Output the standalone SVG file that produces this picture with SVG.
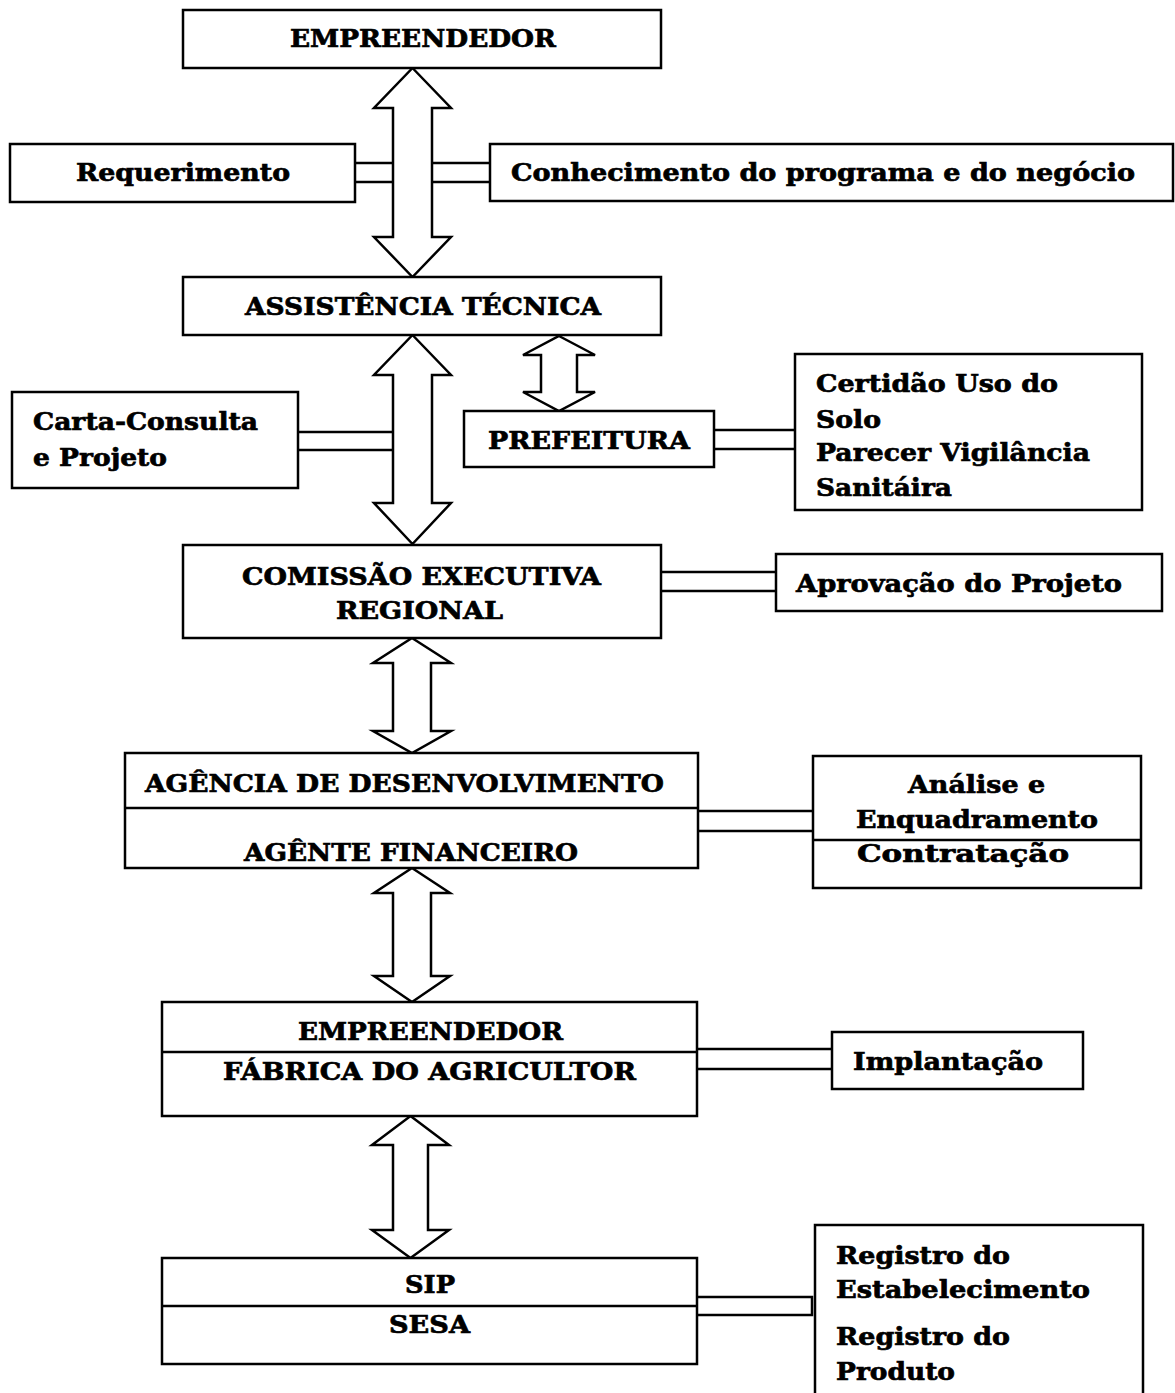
<svg xmlns="http://www.w3.org/2000/svg" width="1175" height="1393" viewBox="0 0 1175 1393">
<style>
.box{fill:#fff;stroke:#000;stroke-width:2.5}
.arr{fill:#fff;stroke:#000;stroke-width:2.5;stroke-linejoin:miter}
.ln{stroke:#000;stroke-width:2.5;fill:none}
.t{font-family:"DejaVu Serif","Liberation Serif",serif;font-weight:bold;font-size:25px;fill:#000;stroke:#000;stroke-width:0.7}
</style>
<rect width="1175" height="1393" fill="#fff"/>
<g id="connectors">
<path class="arr" d="M412.5 68 L451 108 L432 108 L432 237 L451 237 L412.5 277 L374 237 L393 237 L393 108 L374 108 Z"/>
<path class="arr" d="M412.5 335 L451 375 L432 375 L432 503 L451 503 L412.5 544 L374 503 L393 503 L393 375 L374 375 Z"/>
<path class="arr" d="M559 336 L595 355 L577 355 L577 392 L595 392 L559 411 L523 392 L541 392 L541 355 L523 355 Z"/>
<path class="arr" d="M412 638 L451 663 L431 663 L431 731 L451 731 L412 753 L373 731 L393 731 L393 663 L373 663 Z"/>
<path class="arr" d="M412 868 L450 893 L431 893 L431 976 L450 976 L412 1002 L374 976 L393 976 L393 893 L374 893 Z"/>
<path class="arr" d="M410.5 1116 L449 1145 L428 1145 L428 1230 L449 1230 L410.5 1258 L372 1230 L393 1230 L393 1145 L372 1145 Z"/>
<path class="ln" d="M355 163 H393 M355 182 H393"/>
<path class="ln" d="M432 163 H490 M432 182 H490"/>
<path class="ln" d="M298 432 H393 M298 450 H393"/>
<path class="ln" d="M714 430 H795 M714 449 H795"/>
<path class="ln" d="M661 572 H776 M661 591 H776"/>
<path class="ln" d="M698 811 H813 M698 831 H813"/>
<path class="ln" d="M697 1049 H832 M697 1069 H832"/>
<path class="ln" d="M697 1297 H812 V1315 H697"/>
</g>
<g id="empreendedor">
<rect class="box" x="183" y="10" width="478" height="58"/>
<text class="t" x="290" y="47" textLength="266" lengthAdjust="spacingAndGlyphs">EMPREENDEDOR</text>
</g>
<g id="requerimento">
<rect class="box" x="10" y="144" width="345" height="58"/>
<text class="t" x="76" y="181" textLength="214" lengthAdjust="spacingAndGlyphs">Requerimento</text>
</g>
<g id="conhecimento">
<rect class="box" x="490" y="144" width="683" height="57"/>
<text class="t" x="511" y="181" textLength="624" lengthAdjust="spacingAndGlyphs">Conhecimento do programa e do negócio</text>
</g>
<g id="assistencia">
<rect class="box" x="183" y="277" width="478" height="58"/>
<text class="t" x="245" y="315" textLength="356" lengthAdjust="spacingAndGlyphs">ASSISTÊNCIA TÉCNICA</text>
</g>
<g id="carta">
<rect class="box" x="12" y="392" width="286" height="96"/>
<text class="t" x="33" y="430" textLength="225" lengthAdjust="spacingAndGlyphs">Carta-Consulta</text>
<text class="t" x="33" y="466" textLength="134" lengthAdjust="spacingAndGlyphs">e Projeto</text>
</g>
<g id="prefeitura">
<rect class="box" x="464" y="411" width="250" height="56"/>
<text class="t" x="488" y="449" textLength="202" lengthAdjust="spacingAndGlyphs">PREFEITURA</text>
</g>
<g id="certidao">
<rect class="box" x="795" y="354" width="347" height="156"/>
<text class="t" x="816" y="392" textLength="242" lengthAdjust="spacingAndGlyphs">Certidão Uso do</text>
<text class="t" x="816" y="428" textLength="65" lengthAdjust="spacingAndGlyphs">Solo</text>
<text class="t" x="816" y="461" textLength="274" lengthAdjust="spacingAndGlyphs">Parecer Vigilância</text>
<text class="t" x="816" y="496" textLength="136" lengthAdjust="spacingAndGlyphs">Sanitáira</text>
</g>
<g id="comissao">
<rect class="box" x="183" y="545" width="478" height="93"/>
<text class="t" x="242" y="585" textLength="359" lengthAdjust="spacingAndGlyphs">COMISSÃO EXECUTIVA</text>
<text class="t" x="336" y="619" textLength="167" lengthAdjust="spacingAndGlyphs">REGIONAL</text>
</g>
<g id="aprovacao">
<rect class="box" x="776" y="554" width="386" height="57"/>
<text class="t" x="796" y="592" textLength="326" lengthAdjust="spacingAndGlyphs">Aprovação do Projeto</text>
</g>
<g id="agencia">
<rect class="box" x="125" y="753" width="573" height="115"/>
<line class="ln" x1="125" y1="808" x2="698" y2="808"/>
<text class="t" x="145" y="792" textLength="519" lengthAdjust="spacingAndGlyphs">AGÊNCIA DE DESENVOLVIMENTO</text>
<text class="t" x="244" y="861" textLength="334" lengthAdjust="spacingAndGlyphs">AGÊNTE FINANCEIRO</text>
</g>
<g id="analise">
<rect class="box" x="813" y="756" width="328" height="132"/>
<line class="ln" x1="813" y1="840" x2="1141" y2="840"/>
<text class="t" x="908" y="793" textLength="137" lengthAdjust="spacingAndGlyphs">Análise e</text>
<text class="t" x="856" y="828" textLength="242" lengthAdjust="spacingAndGlyphs">Enquadramento</text>
<text class="t" x="857" y="862" textLength="212" lengthAdjust="spacingAndGlyphs">Contratação</text>
</g>
<g id="fabrica">
<rect class="box" x="162" y="1002" width="535" height="114"/>
<line class="ln" x1="162" y1="1052" x2="697" y2="1052"/>
<text class="t" x="298" y="1040" textLength="265" lengthAdjust="spacingAndGlyphs">EMPREENDEDOR</text>
<text class="t" x="223" y="1080" textLength="413" lengthAdjust="spacingAndGlyphs">FÁBRICA DO AGRICULTOR</text>
</g>
<g id="implantacao">
<rect class="box" x="832" y="1032" width="251" height="57"/>
<text class="t" x="853" y="1070" textLength="190" lengthAdjust="spacingAndGlyphs">Implantação</text>
</g>
<g id="sip">
<rect class="box" x="162" y="1258" width="535" height="106"/>
<line class="ln" x1="162" y1="1306" x2="697" y2="1306"/>
<text class="t" x="405" y="1293" textLength="50" lengthAdjust="spacingAndGlyphs">SIP</text>
<text class="t" x="389" y="1333" textLength="81" lengthAdjust="spacingAndGlyphs">SESA</text>
</g>
<g id="registro">
<path class="box" d="M815 1400 V1225 H1143 V1400"/>
<text class="t" x="836" y="1264" textLength="174" lengthAdjust="spacingAndGlyphs">Registro do</text>
<text class="t" x="836" y="1298" textLength="254" lengthAdjust="spacingAndGlyphs">Estabelecimento</text>
<text class="t" x="836" y="1345" textLength="174" lengthAdjust="spacingAndGlyphs">Registro do</text>
<text class="t" x="836" y="1380" textLength="119" lengthAdjust="spacingAndGlyphs">Produto</text>
</g>
</svg>
